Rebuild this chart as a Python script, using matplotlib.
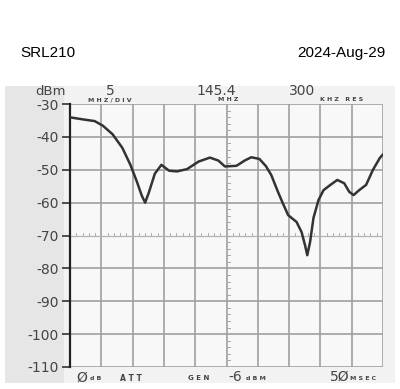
import matplotlib.pyplot as plt
import matplotlib.patches as patches
import numpy as np

# trace: x in divisions (0-10), level in dBm
trace_x = [0.03, 0.43, 0.79, 1.05, 1.36, 1.67, 1.93, 2.14, 2.29, 2.40, 2.52, 2.71,
           2.92, 3.07, 3.17, 3.42, 3.74, 4.11, 4.47, 4.74, 4.95, 5.32, 5.58, 5.79,
           6.05, 6.26, 6.43, 6.63, 6.80, 6.97, 7.24, 7.40, 7.51, 7.58, 7.67, 7.78,
           7.94, 8.10, 8.32, 8.54, 8.76, 8.92, 9.06, 9.24, 9.46, 9.68, 9.90, 10.0]
trace_db = [-34.1, -34.7, -35.2, -36.6, -39.2, -43.3, -48.5, -53.7, -57.8, -60.0, -56.9, -51.2,
            -48.5, -49.6, -50.3, -50.5, -49.8, -47.5, -46.3, -47.2, -49.0, -48.8, -47.2, -46.2,
            -46.7, -48.9, -51.6, -56.4, -60.2, -63.8, -65.9, -69.0, -73.0, -76.0, -72.0, -64.6,
            -59.2, -56.2, -54.6, -53.1, -54.1, -56.7, -57.7, -56.2, -54.6, -50.0, -46.4, -45.3]

y_ticks = [-30, -40, -50, -60, -70, -80, -90, -100, -110]
y_labels = ['-30', '-40', '-50', '-60', '-70', '-80', '-90', '-100', '-110']

fig = plt.figure(figsize=(4.0, 3.89), dpi=100)
fig.patch.set_facecolor('white')

# photo background (grey paper)
fig.patches.append(patches.Rectangle((0.012, 0.015), 0.975, 0.765, transform=fig.transFigure,
                                     facecolor='#e6e6e6', edgecolor='none', zorder=-2))
fig.patches.append(patches.Rectangle((0.16, 0.015), 0.827, 0.765, transform=fig.transFigure,
                                     facecolor='#f2f2f2', edgecolor='none', zorder=-1))

ax = fig.add_axes([0.175, 0.0566, 0.7825, 0.676])
ax.set_facecolor('#f8f8f8')
ax.set_xlim(0, 10)
ax.set_ylim(-110, -30)

# grid
for gx in range(1, 11):
    ax.axvline(gx, color='#a0a0a0', lw=1.2, zorder=1)
for gy in y_ticks:
    if gy != -70:
        ax.axhline(gy, color='#a0a0a0', lw=1.2, zorder=1)
ax.axhline(-70, color='#b4b4b4', lw=0.9, zorder=1)

# minor ticks on the centre lines
for mx in np.arange(0.2, 10, 0.2):
    ax.plot([mx, mx], [-70, -69.2], color='#b0b0b0', lw=0.7, zorder=1)
for my in np.arange(-108, -30, 2):
    ax.plot([5, 5.1], [my, my], color='#a8a8a8', lw=0.7, zorder=1)

ax.plot(trace_x, trace_db, color='#333333', lw=1.8, zorder=3,
        solid_joinstyle='round', solid_capstyle='round')

for s in ['top', 'right', 'bottom']:
    ax.spines[s].set_visible(False)
ax.spines['left'].set_color('#222222')
ax.spines['left'].set_linewidth(1.6)
ax.set_xticks([])
ax.set_yticks(y_ticks)
ax.set_yticklabels(y_labels)
ax.tick_params(axis='y', direction='out', length=6, width=1.2, color='#333333',
               labelsize=10, labelcolor='#444444', pad=2)

# header texts
fig.text(0.05, 0.865, 'SRL210', fontsize=11, family='Liberation Sans', color='black', va='center')
fig.text(0.965, 0.865, '2024-Aug-29', fontsize=11, family='Liberation Sans', color='black',
         va='center', ha='right')

sc = '#444444'
fig.text(0.125, 0.765, 'dBm', fontsize=9.5, color=sc, va='center', ha='center')
fig.text(0.275, 0.765, '5', fontsize=10, color=sc, va='center', ha='center')
fig.text(0.54, 0.765, '145.4', fontsize=10, color=sc, va='center', ha='center')
fig.text(0.755, 0.765, '300', fontsize=10, color=sc, va='center', ha='center')
fig.text(0.275, 0.743, 'M H Z / D I V', fontsize=4.5, color=sc, va='center', ha='center',
         fontweight='bold')
fig.text(0.57, 0.743, 'M H Z', fontsize=4.5, color=sc, va='center', ha='center', fontweight='bold')
fig.text(0.855, 0.743, 'K H Z   R E S', fontsize=4.5, color=sc, va='center', ha='center',
         fontweight='bold')

# footer texts
fig.text(0.19, 0.03, 'Ø', fontsize=10, color=sc, va='center')
fig.text(0.225, 0.027, 'd B', fontsize=4.5, color=sc, va='center', fontweight='bold')
fig.text(0.3, 0.027, 'A T T', fontsize=5.5, color=sc, va='center', fontweight='bold')
fig.text(0.47, 0.027, 'G E N', fontsize=5, color=sc, va='center', fontweight='bold')
fig.text(0.57, 0.032, '-6', fontsize=10, color=sc, va='center')
fig.text(0.615, 0.027, 'd B M', fontsize=4.5, color=sc, va='center', fontweight='bold')
fig.text(0.825, 0.032, '5Ø', fontsize=10, color=sc, va='center')
fig.text(0.875, 0.027, 'M S E C', fontsize=4.5, color=sc, va='center', fontweight='bold')

fig.savefig('out.png', dpi=100)
